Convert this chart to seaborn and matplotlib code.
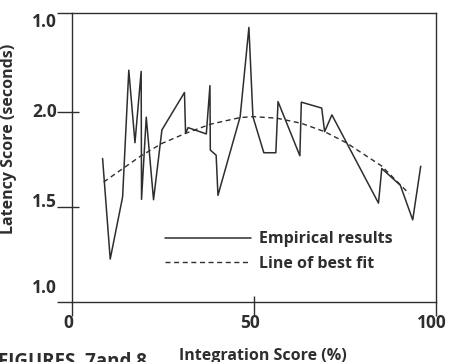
import matplotlib
matplotlib.use("Agg")
import matplotlib.pyplot as plt
import matplotlib.transforms as mtransforms
import seaborn as sns
import pandas as pd

# Empirical results
emp_x = [8.4, 10.5, 13.9, 15.6, 17.3, 19.0, 19.1, 20.4, 22.4, 24.7, 30.9, 31.2, 31.9,
         36.9, 37.9, 38.0, 39.6, 40.1, 46.2, 48.6, 49.7, 52.7, 56.0, 56.6, 62.6, 63.0,
         68.6, 69.4, 71.4, 84.2, 85.1, 90.2, 93.6, 95.8]
emp_y = [1.755, 1.226, 1.552, 2.219, 1.838, 2.213, 1.540, 1.972, 1.538, 1.905, 2.102,
         1.887, 1.917, 1.884, 2.138, 1.799, 1.772, 1.561, 1.975, 2.444, 1.975, 1.785,
         1.785, 2.054, 1.769, 2.051, 2.020, 1.896, 1.984, 1.520, 1.702, 1.614, 1.432, 1.714]

# Line of best fit
fit_x = [8.7, 18.9, 24.7, 31.2, 38.0, 46.2, 49.8, 56.2, 63.0, 69.4, 75.3, 85.1, 92.6]
fit_y = [1.631, 1.768, 1.834, 1.887, 1.935, 1.970, 1.975, 1.967, 1.940, 1.896, 1.838, 1.715, 1.570]

x_ticks = [0, 50, 100]
x_tick_labels = ["0", "50", "100"]
y_ticks = [1.0, 1.5, 2.0, 2.52]
y_tick_labels = ["1.0", "1.5", "2.0", "1.0"]

sns.set_style("ticks")
plt.rcParams["font.family"] = ["Open Sans", "DejaVu Sans"]

ink = "#2e2e2e"
fig = plt.figure(figsize=(4.49, 3.62), dpi=100)
ax = fig.add_axes([72 / 449, 1 - 302 / 362, (436 - 72) / 449, (302 - 13) / 362])

emp = pd.DataFrame({"x": emp_x, "y": emp_y})
fit = pd.DataFrame({"x": fit_x, "y": fit_y})

sns.lineplot(data=emp, x="x", y="y", sort=False, estimator=None, color=ink,
             linewidth=1.1, ax=ax, label="Empirical results")
sns.lineplot(data=fit, x="x", y="y", sort=False, estimator=None, color=ink,
             linewidth=1.0, ax=ax, label="Line of best fit")
ax.lines[1].set_dashes((3.6, 2.6))

ax.set_xlim(0, 100)
ax.set_ylim(1.0, 2.52)

for sp in ax.spines.values():
    sp.set_visible(True)
    sp.set_color(ink)
    sp.set_linewidth(1.0)

ax.set_xticks(x_ticks)
ax.set_xticklabels([])
ax.set_xticks([50], minor=True)
ax.xaxis.remove_overlapping_locs = False
ax.tick_params(axis="x", which="major", bottom=True, direction="out", length=10,
               width=1.0, color=ink)
ax.tick_params(axis="x", which="minor", bottom=True, direction="in", length=4,
               width=1.0, color=ink)

ax.set_yticks(y_ticks)
ax.set_yticklabels([])
ax.set_yticks([1.5, 2.0], minor=True)
ax.yaxis.remove_overlapping_locs = False
ax.tick_params(axis="y", which="major", left=True, direction="out", length=11,
               width=1.0, color=ink)
ax.tick_params(axis="y", which="minor", left=True, direction="in", length=5,
               width=1.0, color=ink)

# y tick labels (slightly offset from their ticks as in the reference)
y_label_offsets = [14, 5, 0, -9]
for v, lab, off in zip(y_ticks, y_tick_labels, y_label_offsets):
    tr = mtransforms.offset_copy(ax.get_yaxis_transform(), fig=fig, x=-15, y=off,
                                 units="dots")
    ax.text(0, v, lab, transform=tr, ha="right", va="center", fontsize=12.5,
            fontweight="bold", color=ink)

# x tick labels
for v, lab in zip(x_ticks, x_tick_labels):
    tr = mtransforms.offset_copy(ax.get_xaxis_transform(), fig=fig, x=-4, y=-21,
                                 units="dots")
    ax.text(v, 0, lab, transform=tr, ha="center", va="center", fontsize=12.5,
            fontweight="bold", color=ink)

ax.set_xlabel("Integration Score (%)", fontsize=11.5, fontweight="bold", color=ink)
ax.xaxis.set_label_coords(0.525, -0.16)
ax.set_ylabel("Latency Score (seconds)", fontsize=11.5, fontweight="bold", color=ink)
ax.yaxis.set_label_coords(-0.15, 0.565)

leg = ax.legend(loc="upper left", bbox_to_anchor=(0.2555, 0.245), frameon=False,
                borderpad=0, borderaxespad=0, handlelength=5.4, handletextpad=0.5,
                labelspacing=0.55, prop={"size": 11.5, "weight": "bold"})
for t in leg.get_texts():
    t.set_color(ink)

fig.text(-0.004, 1 - 352 / 362, "FIGURES  7and 8", ha="left", va="top", fontsize=13.5,
         fontweight="bold", color=ink)

fig.savefig("out.png", dpi=100)
